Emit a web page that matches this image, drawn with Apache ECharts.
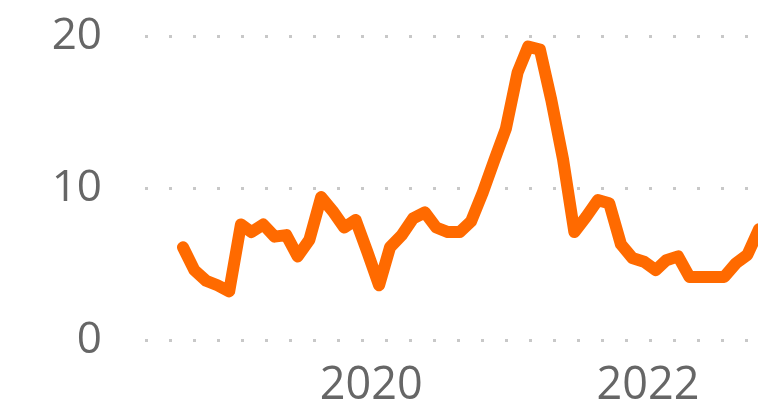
<!DOCTYPE html>
<html>
<head>
<meta charset="utf-8">
<script src="https://cdn.jsdelivr.net/npm/echarts@6/dist/echarts.min.js"></script>
<style>
  html, body { margin: 0; padding: 0; background: #ffffff; }
  #chart { width: 758px; height: 412px; }
</style>
</head>
<body>
<div id="chart"></div>
<script>
const months = [
  '2018-09','2018-10','2018-11','2018-12',
  '2019-01','2019-02','2019-03','2019-04','2019-05','2019-06','2019-07','2019-08','2019-09','2019-10','2019-11','2019-12',
  '2020-01','2020-02','2020-03','2020-04','2020-05','2020-06','2020-07','2020-08','2020-09','2020-10','2020-11','2020-12',
  '2021-01','2021-02','2021-03','2021-04','2021-05','2021-06','2021-07','2021-08','2021-09','2021-10','2021-11','2021-12',
  '2022-01','2022-02','2022-03','2022-04','2022-05','2022-06','2022-07','2022-08','2022-09','2022-10','2022-11'
];
const values = [
  6.1, 4.6, 3.9, 3.6,
  3.2, 7.6, 7.1, 7.6, 6.8, 6.9, 5.5, 6.6, 9.4, 8.5, 7.4, 7.9,
  5.8, 3.6, 6.1, 6.9, 8.0, 8.4, 7.4, 7.1, 7.1, 7.8, 9.7, 11.8,
  13.9, 17.6, 19.3, 19.1, 15.8, 11.9, 7.1, 8.1, 9.2, 9.0, 6.3, 5.4,
  5.15, 4.6, 5.25, 5.5, 4.15, 4.15, 4.15, 4.15, 5.05, 5.6, 7.3
];
const xTickYears = [2020, 2022];
const yTicks = [0, 10, 20];

function toTime(m) {
  const [y, mo] = m.split('-').map(Number);
  return Date.UTC(y, mo - 1, 1);
}

const DAY = 86400000;
const pxPerDay = 0.3785;
const gridLeft = 145;
const gridWidth = 758 - gridLeft;
const xMin = toTime(months[0]) - (183 - gridLeft) / pxPerDay * DAY;
const xMax = xMin + gridWidth / pxPerDay * DAY;

const chart = echarts.init(document.getElementById('chart'), null, { renderer: 'canvas' });
chart.setOption({
  animation: false,
  backgroundColor: '#ffffff',
  grid: { left: gridLeft, right: 0, top: 36, bottom: 72, containLabel: false },
  xAxis: {
    type: 'value',
    min: xMin,
    max: xMax,
    axisLine: { show: false },
    axisTick: { show: false },
    splitLine: { show: false },
    axisLabel: {
      customValues: xTickYears.map(y => Date.UTC(y, 0, 1)),
      formatter: v => String(new Date(v).getUTCFullYear()),
      fontFamily: 'Open Sans',
      fontSize: 45,
      color: '#666666',
      margin: 24,
      padding: [0, 0, 0, 8]
    }
  },
  yAxis: {
    type: 'value',
    min: yTicks[0],
    max: yTicks[yTicks.length - 1],
    interval: 10,
    axisLine: { show: false },
    axisTick: { show: false },
    axisLabel: {
      fontFamily: 'Open Sans',
      fontSize: 44,
      color: '#666666',
      margin: 43
    },
    splitLine: {
      show: true,
      lineStyle: { color: '#c8c8c8', width: 3, type: [3, 21], cap: 'butt' }
    }
  },
  series: [{
    type: 'line',
    data: months.map((m, i) => [toTime(m), values[i]]),
    showSymbol: false,
    symbol: 'none',
    smooth: false,
    clip: true,
    lineStyle: { color: '#ff6a00', width: 12, cap: 'round', join: 'round' }
  }]
});
</script>
</body>
</html>
